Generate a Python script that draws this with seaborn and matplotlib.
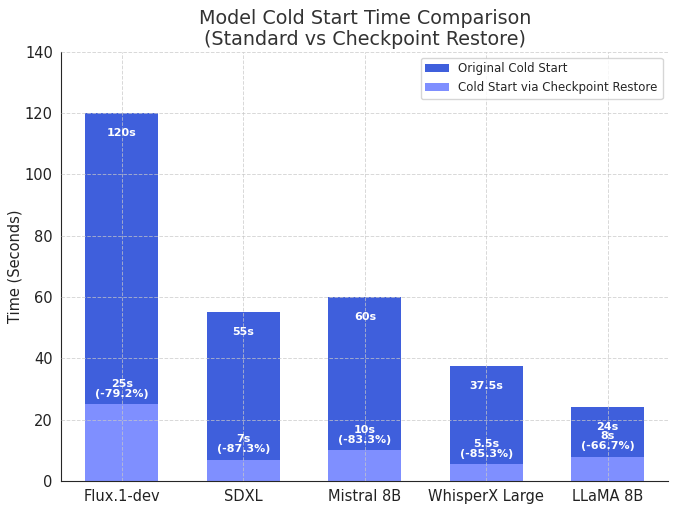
import numpy as np
import matplotlib.pyplot as plt
import pandas as pd
import seaborn as sns

# Data
models = ["Flux.1-dev", "SDXL", "Mistral 8B", "WhisperX Large", "LLaMA 8B"]
original_times = [120, 55, 60, 37.5, 24]
restore_times = [25, 7, 10, 5.5, 8]
reductions = [-79.2, -87.3, -83.3, -85.3, -66.7]

df = pd.DataFrame({"model": models,
                   "original": original_times,
                   "restore": restore_times})

sns.set_style("white")
plt.rcParams['font.family'] = ['DejaVu Sans']

fig, ax = plt.subplots(figsize=(6.8, 5.08), dpi=100)

# original cold start first, then restore drawn on top
sns.barplot(data=df, x="model", y="original", color="#3f5fdc", saturation=1,
            width=0.6, ax=ax, label="Original Cold Start", linewidth=0)
sns.barplot(data=df, x="model", y="restore", color="#7f8fff", saturation=1,
            width=0.6, ax=ax, label="Cold Start via Checkpoint Restore",
            linewidth=0)

# value labels
for i, (o, r, p) in enumerate(zip(original_times, restore_times, reductions)):
    ax.text(i, o - 6.5, f"{o:g}s", ha="center", va="center", color="white",
            fontsize=8, fontweight="bold")
    ax.text(i, r + 5, f"{r:g}s\n({p:.1f}%)", ha="center", va="center",
            color="white", fontsize=8, fontweight="bold", linespacing=1.0)

ax.set_ylim(0, 140)
ax.set_xlim(-0.5, 4.5)
ax.set_xlabel("")
ax.set_ylabel("Time (Seconds)", fontsize=10.5, color="#222222")
ax.yaxis.set_label_coords(-0.064, 0.5)
ax.set_title("Model Cold Start Time Comparison\n(Standard vs Checkpoint Restore)",
             fontsize=13.8, color="#333333", linespacing=1.1, pad=5)
ax.tick_params(axis="both", labelsize=10.5, length=4, pad=2, colors="#222222")
ax.grid(True, linestyle="--", color="#c8c8c8", alpha=0.7, linewidth=0.7)
ax.set_axisbelow(False)
sns.despine(ax=ax)
ax.legend(loc="upper right", fontsize=8.5)

fig.subplots_adjust(left=0.09, right=0.983, top=0.898, bottom=0.053)
fig.savefig("out.png", dpi=100)
